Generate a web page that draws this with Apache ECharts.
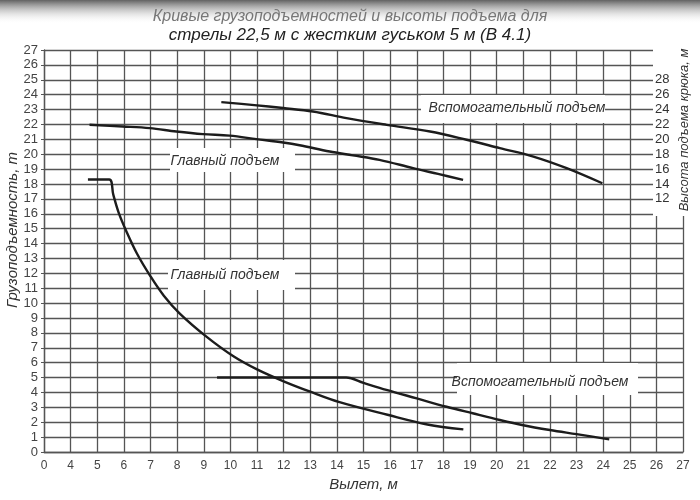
<!DOCTYPE html>
<html>
<head>
<meta charset="utf-8">
<script src="https://cdn.jsdelivr.net/npm/echarts@6/dist/echarts.min.js"></script>
<style>
html,body{margin:0;padding:0;background:#fff;}
#chart{width:700px;height:500px;}
</style>
</head>
<body>
<div id="chart"></div>
<script>
// вылет, м / грузоподъемность, т (главный подъем)
var mainLoadX = [4.65, 5.45, 5.6, 5.8, 6.1, 6.5, 7.0, 7.5, 8.1, 9.1, 10.1, 11.0, 12.0, 13.0, 14.1, 15.9, 17.4, 18.75];
var mainLoadY = [18.3, 18.3, 17.3, 16.1, 14.8, 13.3, 11.8, 10.5, 9.3, 7.75, 6.45, 5.55, 4.75, 4.05, 3.35, 2.5, 1.85, 1.52];
// вспомогательный подъем, т
var auxLoadX = [9.5, 14.35, 15.0, 15.86, 17.0, 18.12, 19.1, 20.12, 21.0, 22.0, 23.0, 24.23];
var auxLoadY = [5.0, 5.0, 4.64, 4.17, 3.6, 3.04, 2.6, 2.15, 1.8, 1.48, 1.2, 0.85];
// высота подъема крюка, м
var mainHookX = [4.71, 5.96, 6.97, 7.97, 8.97, 9.97, 10.98, 11.98, 12.6, 13.73, 14.6, 15.6, 16.86, 17.8, 18.74];
var mainHookY = [21.95, 21.72, 21.5, 21.05, 20.7, 20.5, 20.03, 19.57, 19.2, 18.36, 17.85, 17.25, 16.13, 15.35, 14.56];
var auxHookX = [9.66, 10.9, 11.98, 13.1, 14.36, 15.87, 17.5, 18.87, 20.12, 21.38, 22.63, 23.97];
var auxHookY = [25.0, 24.6, 24.2, 23.74, 22.85, 21.95, 21.05, 19.94, 18.82, 17.69, 16.13, 14.1];

var hookTicks = [12, 14, 16, 18, 20, 22, 24, 26, 28];

var font = 'Liberation Sans';
var lineColor = '#1c1c1c';

function pairs(xs, ys) {
    return xs.map(function(x, i) { return [x, ys[i]]; });
}
function curve(data, axis) {
    return {
        type: 'line',
        yAxisIndex: axis,
        data: data,
        showSymbol: false,
        smooth: 0.35,
        lineStyle: { color: lineColor, width: 2.4 },
        z: 4
    };
}
function note(text, cx, cy, x1, y1, x2, y2) {
    return [
        { type: 'rect', z: 2, shape: { x: x1, y: y1, width: x2 - x1, height: y2 - y1 }, style: { fill: '#fff' } },
        { type: 'text', z: 3, x: cx, y: cy, style: { text: text, fill: '#333', font: 'italic 14px ' + font, align: 'center', verticalAlign: 'middle' } }
    ];
}

var chart = echarts.init(document.getElementById('chart'));
var graphics = [
    { type: 'rect', z: 0, shape: { x: 0, y: 0, width: 700, height: 24 },
      style: { fill: new echarts.graphic.LinearGradient(0, 0, 0, 1, [
          { offset: 0, color: 'rgba(70,70,70,0.85)' },
          { offset: 1, color: 'rgba(255,255,255,0)' }
      ]) } },
    // верхний правый угол без сетки
    { type: 'rect', z: 2, shape: { x: 653, y: 44, width: 47, height: 172 }, style: { fill: '#fff' } },
    { type: 'text', z: 6, x: 684, y: 130, rotation: Math.PI / 2,
      style: { text: 'Высота подъема крюка, м', fill: '#333', font: 'italic 13px ' + font, align: 'center', verticalAlign: 'middle' } },
    { type: 'text', z: 6, x: 13, y: 230, rotation: Math.PI / 2,
      style: { text: 'Грузоподъемность, т', fill: '#333', font: 'italic 15px ' + font, align: 'center', verticalAlign: 'middle' } }
];
graphics = graphics
    .concat(note('Вспомогательный подъем', 517, 108, 421, 95, 605, 123))
    .concat(note('Главный подъем', 225, 161, 170, 148, 295, 172))
    .concat(note('Главный подъем', 225, 275, 168, 260, 295, 290))
    .concat(note('Вспомогательный подъем', 540, 382, 457, 363, 638, 395));

var option = {
    animation: false,
    backgroundColor: '#fff',
    title: [
        { text: 'Кривые грузоподъемностей и высоты подъема для', left: 'center', top: 4,
          textStyle: { fontFamily: font, fontStyle: 'italic', fontWeight: 'normal', fontSize: 16, color: '#777' } },
        { text: 'стрелы 22,5 м с жестким гуськом 5 м (В 4.1)', left: 'center', top: 22,
          textStyle: { fontFamily: font, fontStyle: 'italic', fontWeight: 'normal', fontSize: 17, color: '#222' } }
    ],
    grid: { left: 44, right: 17, top: 50, bottom: 48 },
    xAxis: {
        type: 'value',
        min: 3,
        max: 27,
        interval: 1,
        name: 'Вылет, м',
        nameLocation: 'middle',
        nameGap: 19,
        nameTextStyle: { fontFamily: font, fontStyle: 'italic', fontSize: 15, color: '#333' },
        axisLine: { show: true, lineStyle: { color: '#555', width: 1.3 } },
        axisTick: { show: false },
        axisLabel: {
            margin: 8,
            fontFamily: font, fontSize: 12, color: '#444',
            formatter: function(v) { return v === 3 ? '0' : String(v); }
        },
        splitLine: { show: true, lineStyle: { color: '#555', width: 1.3 } }
    },
    yAxis: [
        {
            type: 'value',
            min: 0,
            max: 27,
            interval: 1,
            axisLine: { show: true, lineStyle: { color: '#555', width: 1.3 } },
            axisTick: { show: true, length: 3, lineStyle: { color: '#555' } },
            axisLabel: { margin: 6, fontFamily: font, fontSize: 13, color: '#444' },
            splitLine: { show: true, lineStyle: { color: '#555', width: 1.3 } }
        },
        {
            type: 'value',
            position: 'right',
            offset: -31,
            min: -22,
            max: 32,
            interval: 2,
            z: 6,
            axisLine: { show: false },
            axisTick: { show: false },
            splitLine: { show: false },
            axisLabel: {
                margin: 3,
                fontFamily: font, fontSize: 13, color: '#333',
                formatter: function(v) { return hookTicks.indexOf(v) >= 0 ? String(v) : ''; }
            }
        }
    ],
    graphic: graphics,
    series: [
        curve(pairs(mainLoadX, mainLoadY), 0),
        curve(pairs(auxLoadX, auxLoadY), 0),
        curve(pairs(mainHookX, mainHookY), 1),
        curve(pairs(auxHookX, auxHookY), 1)
    ]
};
chart.setOption(option);
</script>
</body>
</html>
